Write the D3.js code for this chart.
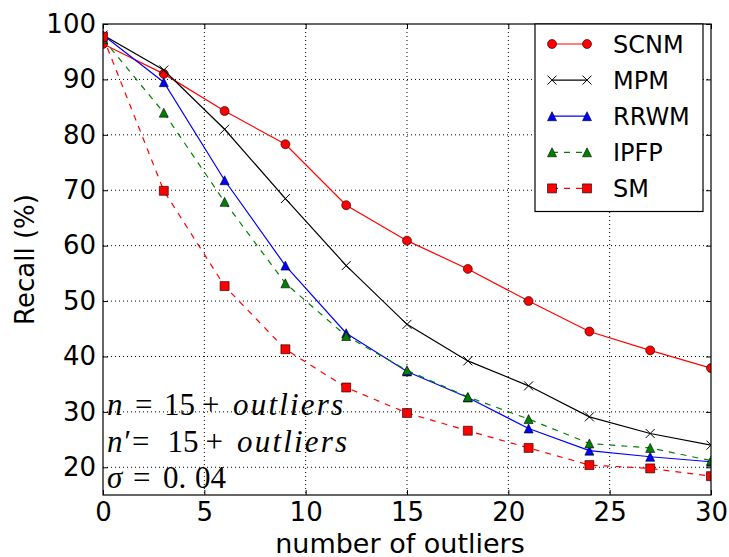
<!DOCTYPE html>
<html>
<head>
<meta charset="utf-8">
<script src="https://cdn.jsdelivr.net/npm/d3@7"></script>
<style>
  body { margin: 0; background: #fff; }
  svg { display: block; font-family: 'DejaVu Sans', sans-serif; }
</style>
</head>
<body>
<svg id="chart" width="729" height="557"></svg>
<script>
// data
const outliers = [0, 3, 6, 9, 12, 15, 18, 21, 24, 27, 30]
const scnm = [96.4, 91.0, 84.3, 78.3, 67.3, 60.9, 55.8, 50.0, 44.5, 41.1, 37.9]
const mpm = [98.0, 91.7, 81.0, 68.5, 56.4, 45.8, 39.2, 34.7, 29.1, 26.1, 24.0]
const rrwm = [98.0, 89.5, 71.8, 56.4, 44.2, 37.3, 32.6, 27.0, 23.0, 21.9, 21.0]
const ipfp = [97.3, 84.0, 67.9, 53.2, 43.7, 37.5, 32.7, 28.7, 24.3, 23.5, 21.2]
const sm = [97.7, 69.9, 52.7, 41.3, 34.4, 29.8, 26.6, 23.5, 20.4, 19.8, 18.4]
const xTicks = [0, 5, 10, 15, 20, 25, 30]
const yTicks = [20, 30, 40, 50, 60, 70, 80, 90, 100]

const series = [
  { name: 'SCNM', values: scnm, color: '#ff0000', dash: null, marker: 'circle' },
  { name: 'MPM', values: mpm, color: '#000000', dash: null, marker: 'x' },
  { name: 'RRWM', values: rrwm, color: '#0000ff', dash: null, marker: 'triangle' },
  { name: 'IPFP', values: ipfp, color: '#008000', dash: '6,6', marker: 'triangle' },
  { name: 'SM', values: sm, color: '#ff0000', dash: '6,6', marker: 'square' }
]

const margin = { top: 24, left: 103, bottom: 62, right: 18 },
  width = 729, height = 557,
  innerwidth = width - margin.left - margin.right,
  innerheight = height - margin.top - margin.bottom

const svg = d3.select('#chart')
const canvas = svg.append('g').attr('transform', `translate(${margin.left},${margin.top})`)

const xScale = d3.scaleLinear().domain([0, 30]).range([0, innerwidth])
const yScale = d3.scaleLinear().domain([15, 100]).range([innerheight, 0])

canvas.append('clipPath').attr('id', 'clip')
  .append('rect').attr('width', innerwidth).attr('height', innerheight)

// grid
canvas.append('g').selectAll('line').data(xTicks.slice(1, -1)).enter().append('line')
  .attr('x1', d => xScale(d)).attr('x2', d => xScale(d))
  .attr('y1', 0).attr('y2', innerheight)
  .attr('stroke', '#000').attr('stroke-dasharray', '1,3')
canvas.append('g').selectAll('line').data(yTicks.slice(0, -1)).enter().append('line')
  .attr('y1', d => yScale(d)).attr('y2', d => yScale(d))
  .attr('x1', 0).attr('x2', innerwidth)
  .attr('stroke', '#000').attr('stroke-dasharray', '1,3')

// axes, ticks pointing inwards on all sides
const xAxis = d3.axisBottom(xScale).tickValues(xTicks).tickSize(-5).tickPadding(8).tickFormat(d3.format('d'))
const yAxis = d3.axisLeft(yScale).tickValues(yTicks).tickSize(-5).tickPadding(7)
const xTop = d3.axisTop(xScale).tickValues(xTicks).tickSize(-5).tickFormat('')
const yRight = d3.axisRight(yScale).tickValues(yTicks).tickSize(-5).tickFormat('')

const styleAxis = g => {
  g.select('.domain').remove()
  g.selectAll('.tick line').attr('stroke', '#000')
  g.selectAll('text').attr('font-size', 26).attr('fill', '#000')
    .attr('font-family', 'DejaVu Sans')
}
canvas.append('g').attr('transform', `translate(0,${innerheight})`).call(xAxis).call(styleAxis)
canvas.append('g').call(yAxis).call(styleAxis)
canvas.append('g').call(xTop).call(styleAxis)
canvas.append('g').attr('transform', `translate(${innerwidth},0)`).call(yRight).call(styleAxis)

// markers
const markerPath = (type) => {
  const r = 4.5
  if (type === 'circle') return d3.symbol(d3.symbolCircle, Math.PI * r * r)()
  if (type === 'square') return `M${-r},${-r}H${r}V${r}H${-r}Z`
  if (type === 'triangle') return `M0,${-r}L${r},${r}L${-r},${r}Z`
  return `M${-r},${-r}L${r},${r}M${-r},${r}L${r},${-r}`
}

const line = d3.line().x((d, i) => xScale(outliers[i])).y(d => yScale(d))
const plot = canvas.append('g').attr('clip-path', 'url(#clip)')

series.forEach(s => {
  plot.append('path')
    .attr('d', line(s.values))
    .attr('fill', 'none')
    .attr('stroke', s.color)
    .attr('stroke-width', 1.2)
    .attr('stroke-dasharray', s.dash)
  plot.selectAll(null).data(s.values).enter().append('path')
    .attr('transform', (d, i) => `translate(${xScale(outliers[i])},${yScale(d)})`)
    .attr('d', markerPath(s.marker))
    .attr('fill', s.marker === 'x' ? 'none' : s.color)
    .attr('stroke', '#000')
    .attr('stroke-width', s.marker === 'x' ? 1 : 0.6)
})

// frame
canvas.append('rect').attr('width', innerwidth).attr('height', innerheight)
  .attr('fill', 'none').attr('stroke', '#000').attr('stroke-width', 1.2)

// axis labels
svg.append('text').text('number of outliers')
  .attr('x', 400).attr('y', 552.5).attr('text-anchor', 'middle').attr('font-size', 27)
svg.append('text').text('Recall (%)')
  .attr('transform', `translate(34,${margin.top + innerheight / 2}) rotate(-90)`)
  .attr('text-anchor', 'middle').attr('font-size', 26)

// legend
const legend = canvas.append('g').attr('transform', `translate(${535 - margin.left},0)`)
legend.append('rect').attr('width', 168).attr('height', 187.5)
  .attr('fill', '#fff').attr('stroke', '#000').attr('stroke-width', 1.2)
series.forEach((s, i) => {
  const g = legend.append('g').attr('transform', `translate(0,${20 + i * 36.1})`)
  g.append('line').attr('x1', 17).attr('x2', 52)
    .attr('stroke', s.color).attr('stroke-width', 1.2).attr('stroke-dasharray', s.dash)
  ;[17, 52].forEach(x => {
    g.append('path').attr('transform', `translate(${x},0)`)
      .attr('d', markerPath(s.marker))
      .attr('fill', s.marker === 'x' ? 'none' : s.color)
      .attr('stroke', '#000').attr('stroke-width', s.marker === 'x' ? 1 : 0.6)
  })
  g.append('text').text(s.name).attr('x', 78).attr('y', 8.5).attr('font-size', 24)
})

// annotation (math-style: italic symbols, upright numbers and operators)
const notes = [
  [['n', true, 107], ['=', false, 135], ['15', false, 164], ['+', false, 202], ['outliers', true, 233]],
  [['n′', true, 107], ['=', false, 132], ['15', false, 167.5], ['+', false, 205.5], ['outliers', true, 237]],
  [['σ', true, 107], ['=', false, 133], ['0.', false, 163], ['04', false, 195]]
]
const noteBase = [415, 451.7, 488.3]
notes.forEach((parts, i) => {
  const t = svg.append('text').attr('y', noteBase[i])
    .attr('font-family', 'Liberation Serif').attr('font-size', 31)
  parts.forEach(p => {
    t.append('tspan').text(p[0]).attr('x', p[2])
      .attr('font-style', p[1] ? 'italic' : 'normal')
      .attr('letter-spacing', p[0] === 'outliers' ? 2.2 : 0)
  })
})
</script>
</body>
</html>
